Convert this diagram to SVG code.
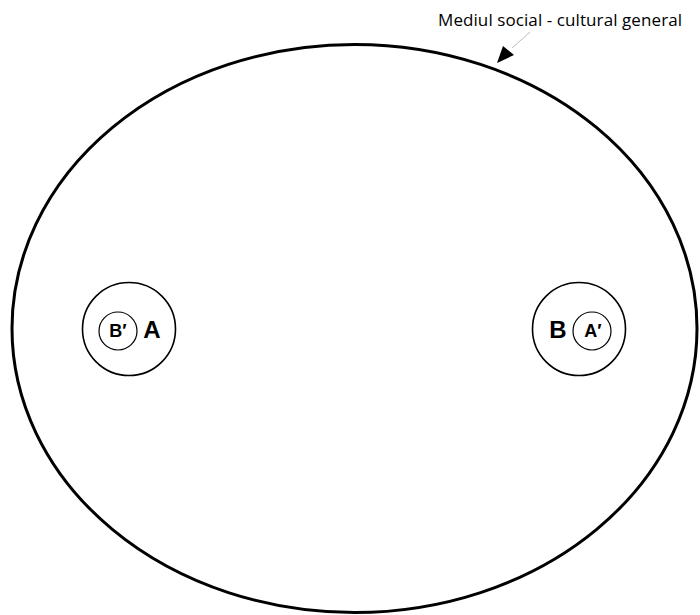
<svg xmlns="http://www.w3.org/2000/svg" width="700" height="615" viewBox="0 0 700 615">
<style>
.big{fill:none;stroke:#000;stroke-width:3}
.c{fill:none;stroke:#000;stroke-width:1.6}
.ci{fill:none;stroke:#000;stroke-width:1.2}
.t{font-family:"Liberation Sans",Arial,sans-serif;font-weight:bold;fill:#000;text-anchor:middle}
.lbl{font-family:"Open Sans","Liberation Sans",sans-serif;font-size:17px;fill:#000}
</style>
<rect width="700" height="615" fill="#fff"/>
<g id="mediu">
<ellipse class="big" cx="354.5" cy="328.5" rx="342.5" ry="284"/>
</g>
<g id="nodeA">
<circle class="c" cx="129" cy="329" r="46.5"/>
<circle class="ci" cx="118" cy="331" r="19"/>
<text class="t" x="118" y="337" font-size="18">B′</text>
<text class="t" x="152" y="338" font-size="24">A</text>
</g>
<g id="nodeB">
<circle class="c" cx="579" cy="329" r="46.5"/>
<circle class="ci" cx="592" cy="331" r="19"/>
<text class="t" x="558" y="338" font-size="24">B</text>
<text class="t" x="593" y="337" font-size="18">A′</text>
</g>
<g id="label">
<text class="lbl" x="438" y="26" textLength="244">Mediul social - cultural general</text>
</g>
<g id="connectors">
<line x1="530" y1="32" x2="512" y2="48" stroke="#aaa" stroke-width="0.8"/>
<polygon points="497,63 503,46 514,55" fill="#000"/>
</g>
</svg>
